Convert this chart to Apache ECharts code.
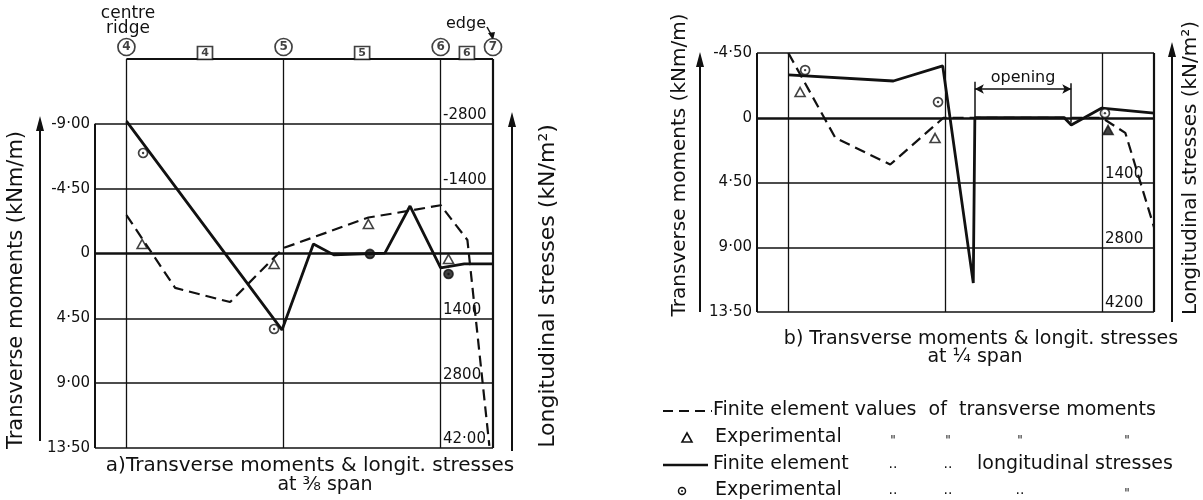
<!DOCTYPE html>
<html><head><meta charset="utf-8">
<script src="https://cdn.jsdelivr.net/npm/echarts@6/dist/echarts.min.js"></script>
<style>html,body{margin:0;padding:0;background:#fff}#c{width:1203px;height:500px}</style>
</head><body><div id="c"></div>
<script>
// ---------------- data ----------------
// x positions: node 4 = 0, node 5 = 1, node 6 = 2, edge node 7 = 2.333
const nodeX = [0, 1, 2, 2.333];
const nodeLabels = ['4', '5', '6', '7'];
const elemX = [0.5, 1.5, 2.167];
const elemLabels = ['4', '5', '6'];
const xLeftEdge = -0.2;

// a) 3/8 span
const momentTicksA = [-9, -4.5, 0, 4.5, 9, 13.5];
const stressTicksA = [-2800, -1400, 1400, 2800, 4200];
const stressLabelsA = ['-2800', '-1400', '1400', '2800', '42·00'];
const feMomentA = [[0, -2.67], [0.31, 2.39], [0.66, 3.37], [1.0, -0.38], [1.54, -2.5], [1.71, -2.8], [2.0, -3.35], [2.17, -0.94], [2.31, 13.36]];
const expMomentA = [[0.1, -0.66], [0.94, 0.73], [1.54, -2.05], [2.05, 0.38]];
const feStressA = [[0, -2860], [0.99, 1650], [1.19, -205], [1.32, 30], [1.645, -10], [1.805, -1025], [2.0, 310], [2.15, 225], [2.333, 225]];
const expStressA = [[0.106, -2170], [0.94, 1630]];
const expStressAFilled = [[1.55, 10], [2.05, 443]];

// b) 1/4 span
const momentTicksB = [-4.5, 0, 4.5, 9, 13.5];
const stressTicksB = [1400, 2800, 4200];
const stressLabelsB = ['1400', '2800', '4200'];
const feMomentB = [[0, -4.5], [0.30, 1.4], [0.65, 3.25], [0.99, 0], [2.0, 0], [2.15, 1.05], [2.333, 7.6]];
const expMomentB = [[0.075, -1.79], [0.936, 1.41]];
const expMomentBFilled = [[2.04, 0.85]];
const feStressB = [[0, -925], [0.67, -795], [0.985, -1120], [1.18, 3575], [1.19, 0], [1.76, 0], [1.805, 155], [2.0, -210], [2.333, -100]];
const expStressB = [[0.107, -1030], [0.955, -340], [2.02, -100]];
const openingX = [1.19, 1.805];

// ---------------- helpers ----------------
const FONT = '"DejaVu Sans", sans-serif';
const INK = '#111';
const fmtM = v => v === 0 ? '0' : v.toFixed(2).replace('.', '·');
function seg(x1, y1, x2, y2, w) {
  return [{ coord: [x1, y1], lineStyle: { width: w, color: INK, type: 'solid' } }, { coord: [x2, y2] }];
}
function frameSeries(xi, yi, data) {
  return {
    type: 'line', xAxisIndex: xi, yAxisIndex: yi, data: [], z: 1, silent: true,
    markLine: { silent: true, symbol: ['none', 'none'], label: { show: false }, animation: false, data: data }
  };
}
function lineSeries(xi, yi, data, dashed) {
  return {
    type: 'line', xAxisIndex: xi, yAxisIndex: yi, data: data, showSymbol: false, symbol: 'none', z: 3, clip: false,
    lineStyle: { color: INK, width: dashed ? 2.2 : 2.8, type: dashed ? [11, 6] : 'solid' }
  };
}
function triSeries(xi, yi, data, filled) {
  return {
    type: 'scatter', xAxisIndex: xi, yAxisIndex: yi, data: data, symbol: 'triangle', symbolSize: [10, 9], z: 5,
    itemStyle: { color: filled ? INK : '#fff', borderColor: INK, borderWidth: 1.6 }
  };
}
function ringSeries(xi, yi, data, filled) {
  return [{
    type: 'scatter', xAxisIndex: xi, yAxisIndex: yi, data: data, symbol: 'circle', symbolSize: 9, z: 5,
    itemStyle: { color: filled ? INK : '#fff', borderColor: INK, borderWidth: 1.7 }
  }, {
    type: 'scatter', xAxisIndex: xi, yAxisIndex: yi, data: data, symbol: 'circle', symbolSize: 2.4, z: 6,
    itemStyle: { color: INK }
  }];
}
function txt(text, x, y, size, align, extra) {
  return Object.assign({ type: 'text', x: x, y: y, style: { text: text, font: size + 'px ' + FONT, fill: INK, align: align || 'left', verticalAlign: 'middle' } }, extra || {});
}
function vtxt(text, x, y, size) {
  return { type: 'text', x: x, y: y, rotation: Math.PI / 2, style: { text: text, font: size + 'px ' + FONT, fill: INK, align: 'center', verticalAlign: 'middle' } };
}
function arrowUp(x, yTop, yBot) {
  return [
    { type: 'line', shape: { x1: x, y1: yBot, x2: x, y2: yTop + 10 }, style: { stroke: INK, lineWidth: 2 } },
    { type: 'polygon', shape: { points: [[x, yTop], [x - 4, yTop + 15], [x + 4, yTop + 15]] }, style: { fill: INK } }
  ];
}

// ---------------- frames ----------------
const frameA = [];
momentTicksA.forEach(v => frameA.push(seg(xLeftEdge, v, nodeX[3], v, v === 0 ? 2.6 : 1.5)));
frameA.push(seg(nodeX[0], -13.5, nodeX[3], -13.5, 1.8));
nodeX.slice(0, 3).forEach(x => frameA.push(seg(x, -13.5, x, 13.5, 1.3)));
frameA.push(seg(nodeX[3], -13.5, nodeX[3], 13.5, 2.2));
frameA.push(seg(xLeftEdge, -9, xLeftEdge, 13.5, 2));

const frameB = [];
momentTicksB.forEach(v => frameB.push(seg(xLeftEdge, v, nodeX[3], v, v === 0 ? 2.6 : 1.5)));
nodeX.slice(0, 3).forEach(x => frameB.push(seg(x, -4.5, x, 13.5, 1.3)));
frameB.push(seg(nodeX[3], -4.5, nodeX[3], 13.5, 2.2));
frameB.push(seg(xLeftEdge, -4.5, xLeftEdge, 13.5, 2));
frameB.push(seg(openingX[0], -2.5, openingX[0], 0, 1.5));
frameB.push(seg(openingX[1], -2.4, openingX[1], 0.35, 1.5));

const chart = echarts.init(document.getElementById('c'), null, { renderer: 'canvas' });

const yLabel = { fontFamily: FONT, fontSize: 15, color: INK };
const option = {
  animation: false,
  backgroundColor: '#fff',
  grid: [
    { left: 95, top: 59, width: 398, height: 389 },
    { left: 757, top: 53, width: 397, height: 259 }
  ],
  xAxis: [
    { gridIndex: 0, type: 'value', min: xLeftEdge, max: nodeX[3], show: false },
    { gridIndex: 1, type: 'value', min: xLeftEdge, max: nodeX[3], show: false }
  ],
  yAxis: [
    { gridIndex: 0, type: 'value', inverse: true, min: -13.5, max: 13.5, interval: 4.5,
      axisLine: { show: false }, axisTick: { show: false }, splitLine: { show: false },
      axisLabel: Object.assign({ margin: 5, formatter: v => (momentTicksA.indexOf(v) < 0 ? '' : fmtM(v)) }, yLabel) },
    { gridIndex: 0, type: 'value', position: 'right', inverse: true, min: -4200, max: 4200, interval: 1400,
      axisLine: { show: false }, axisTick: { show: false }, splitLine: { show: false },
      axisLabel: Object.assign({ inside: true, margin: 50, align: 'left', verticalAlign: 'bottom', padding: [0, 0, 1, 0],
        formatter: v => { const i = stressTicksA.indexOf(v); return i < 0 ? '' : stressLabelsA[i]; } }, yLabel) },
    { gridIndex: 1, type: 'value', inverse: true, min: -4.5, max: 13.5, interval: 4.5,
      axisLine: { show: false }, axisTick: { show: false }, splitLine: { show: false },
      axisLabel: Object.assign({ margin: 5, formatter: v => fmtM(v) }, yLabel) },
    { gridIndex: 1, type: 'value', position: 'right', inverse: true, min: -1400, max: 4200, interval: 1400,
      axisLine: { show: false }, axisTick: { show: false }, splitLine: { show: false },
      axisLabel: Object.assign({ inside: true, margin: 49, align: 'left', verticalAlign: 'bottom', padding: [0, 0, 1, 0],
        formatter: v => { const i = stressTicksB.indexOf(v); return i < 0 ? '' : stressLabelsB[i]; } }, yLabel) }
  ],
  series: [
    frameSeries(0, 0, frameA),
    frameSeries(1, 2, frameB),
    // opening double arrow
    { type: 'line', xAxisIndex: 1, yAxisIndex: 2, data: [], silent: true,
      markLine: { silent: true, animation: false, symbol: ['arrow', 'arrow'], symbolSize: [7, 9],
        lineStyle: { color: INK, width: 1.5, type: 'solid' },
        label: { show: true, position: 'insideMiddleTop', distance: 3, formatter: 'opening', fontFamily: FONT, fontSize: 16, color: INK },
        data: [[{ coord: [openingX[0], -2.0] }, { coord: [openingX[1], -2.0] }]] } },
    // node labels (circled) and element labels (boxed)
    { type: 'scatter', xAxisIndex: 0, yAxisIndex: 0, clip: false, z: 6, silent: true,
      data: nodeX.map(x => [x, -13.5]), symbol: 'circle', symbolSize: 17, symbolOffset: [0, -12],
      itemStyle: { color: '#fff', borderColor: INK, borderWidth: 1.7 },
      label: { show: true, position: 'inside', formatter: p => nodeLabels[p.dataIndex], fontFamily: FONT, fontSize: 12, fontWeight: 'bold', color: INK } },
    { type: 'scatter', xAxisIndex: 0, yAxisIndex: 0, clip: false, z: 6, silent: true,
      data: elemX.map(x => [x, -13.5]), symbol: 'rect', symbolSize: [15, 13], symbolOffset: [0, -6],
      itemStyle: { color: '#fff', borderColor: INK, borderWidth: 1.6 },
      label: { show: true, position: 'inside', formatter: p => elemLabels[p.dataIndex], fontFamily: FONT, fontSize: 11, fontWeight: 'bold', color: INK } },
    // chart a
    lineSeries(0, 0, feMomentA, true),
    lineSeries(0, 1, feStressA, false),
    triSeries(0, 0, expMomentA, false),
    ...ringSeries(0, 1, expStressA, false),
    ...ringSeries(0, 1, expStressAFilled, true),
    // chart b
    lineSeries(1, 2, feMomentB, true),
    lineSeries(1, 3, feStressB, false),
    triSeries(1, 2, expMomentB, false),
    triSeries(1, 2, expMomentBFilled, true),
    ...ringSeries(1, 3, expStressB, false)
  ],
  graphic: [
    // chart a annotations
    txt('centre', 128, 14, 17, 'center'),
    txt('ridge', 128, 29, 17, 'center'),
    txt('edge', 466, 24, 16, 'center'),
    { type: 'line', shape: { x1: 487, y1: 27, x2: 492, y2: 36 }, style: { stroke: INK, lineWidth: 1.5 } },
    { type: 'polygon', shape: { points: [[493, 40], [488, 33], [495, 32]] }, style: { fill: INK } },
    vtxt('Transverse moments (kNm/m)', 17, 290, 21),
    ...arrowUp(40, 116, 441),
    vtxt('Longitudinal stresses (kN/m²)', 548, 286, 22),
    ...arrowUp(512, 112, 451),
    txt('a)Transverse moments & longit. stresses', 310, 466, 20, 'center'),
    txt('at ³⁄₈ span', 325, 485, 19, 'center'),
    // chart b annotations
    vtxt('Transverse moments (kNm/m)', 680, 165, 20),
    ...arrowUp(700, 52, 312),
    vtxt('Longitudinal stresses (kN/m²)', 1191, 168, 20),
    ...arrowUp(1172, 42, 322),
    txt('b) Transverse moments & longit. stresses', 981, 339, 19, 'center'),
    txt('at ¼ span', 975, 357, 19, 'center'),
    // legend
    { type: 'line', shape: { x1: 663, y1: 411, x2: 712, y2: 411 }, style: { stroke: INK, lineWidth: 2, lineDash: [10, 6] } },
    txt('Finite element values  of  transverse moments', 713, 410, 19, 'left'),
    { type: 'polygon', shape: { points: [[687, 433], [682, 442], [692, 442]] }, style: { fill: '#fff', stroke: INK, lineWidth: 1.6 } },
    txt('Experimental', 715, 437, 19, 'left'),
    txt('"', 893, 441, 12, 'center'), txt('"', 948, 441, 12, 'center'), txt('"', 1020, 441, 12, 'center'), txt('"', 1127, 441, 12, 'center'),
    { type: 'line', shape: { x1: 663, y1: 465, x2: 708, y2: 465 }, style: { stroke: INK, lineWidth: 2.5 } },
    txt('Finite element', 713, 464, 19, 'left'),
    txt('..', 893, 464, 14, 'center'), txt('..', 948, 464, 14, 'center'),
    txt('longitudinal stresses', 977, 464, 19, 'left'),
    { type: 'circle', shape: { cx: 682, cy: 491, r: 3.5 }, style: { fill: '#fff', stroke: INK, lineWidth: 1.5 } },
    { type: 'circle', shape: { cx: 682, cy: 491, r: 1 }, style: { fill: INK } },
    txt('Experimental', 715, 490, 19, 'left'),
    txt('..', 893, 490, 14, 'center'), txt('..', 948, 490, 14, 'center'), txt('..', 1020, 490, 14, 'center'), txt('"', 1127, 494, 12, 'center')
  ]
};
chart.setOption(option);
</script>
</body></html>
